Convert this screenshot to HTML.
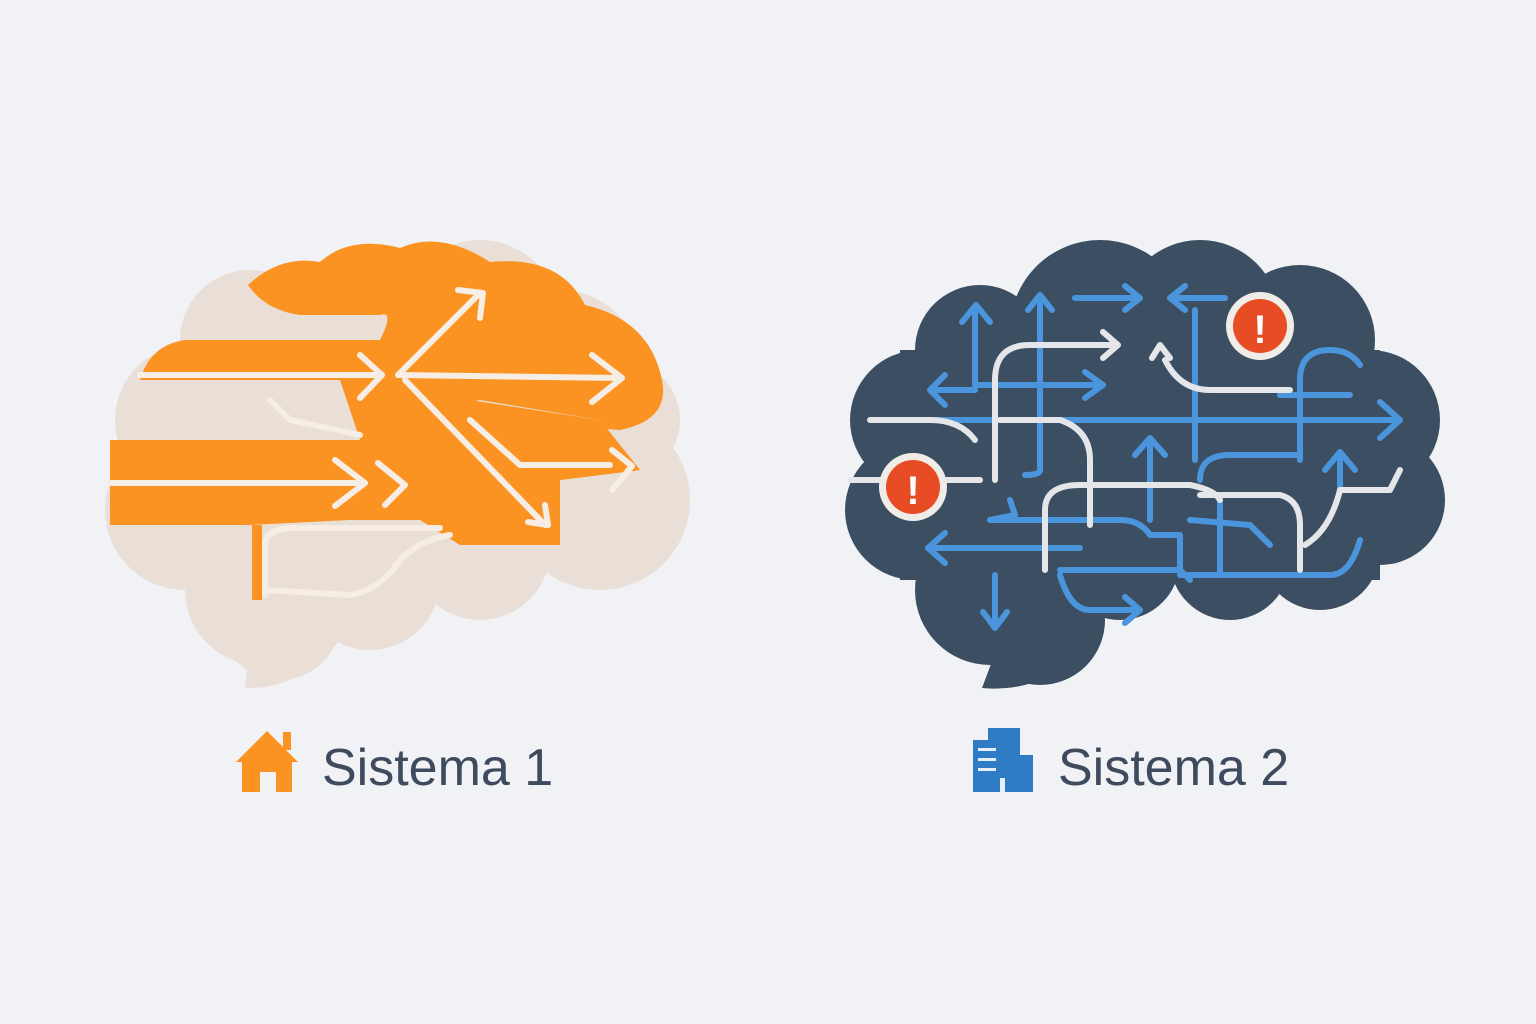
<!DOCTYPE html>
<html><head><meta charset="utf-8"><style>
html,body{margin:0;padding:0;background:#f1f2f5;}
svg{display:block}
text{font-family:"Liberation Sans",sans-serif;}
</style></head><body>
<svg width="1536" height="1024" viewBox="0 0 1536 1024">
<rect width="1536" height="1024" fill="#f1f2f5"/>
<!-- LEFT BRAIN beige -->
<g fill="#eadfd6">
<circle cx="250" cy="340" r="70"/><circle cx="190" cy="420" r="75"/><circle cx="185" cy="510" r="80"/>
<circle cx="260" cy="590" r="75"/><circle cx="370" cy="580" r="70"/><circle cx="480" cy="550" r="70"/>
<circle cx="600" cy="500" r="90"/><circle cx="620" cy="420" r="60"/><circle cx="360" cy="330" r="80"/>
<circle cx="480" cy="320" r="80"/><circle cx="560" cy="370" r="80"/><circle cx="280" cy="620" r="60"/>
<rect x="200" y="350" width="420" height="220"/>
<path d="M250 640 L245 688 Q300 690 340 640 Z"/>
</g>
<!-- orange parts -->
<g fill="#fb9322">
<path d="M248 285 Q280 255 320 262 Q350 235 400 248 Q440 230 490 262 Q560 255 585 305 Q650 320 662 380 Q670 420 620 430 L470 420 L420 520 L460 545 L560 545 L560 480 L640 470 L600 420 L480 400 L430 410 L350 520 L250 525 L110 525 L110 440 L360 440 L340 380 L140 380 Q150 345 185 340 L380 340 Q395 310 380 315 L300 315 Q265 310 248 285 Z"/>
<path d="M340 380 L470 400 L600 420 L640 470 L560 480 L560 545 L510 545 L440 520 L350 520 L365 440 Z"/>
<rect x="252" y="525" width="10" height="75"/>
</g>
<g stroke="#f6ede4" stroke-width="6" fill="none" stroke-linecap="round" stroke-linejoin="round">
<path d="M140 375 L380 375 M360 355 L382 375 L360 398"/>
<path d="M110 483 L365 483 M335 460 L365 483 L335 506"/>
<path d="M378 463 L405 485 L385 505"/>
<path d="M398 375 L620 378 M592 355 L622 378 M592 402 L622 378"/>
<path d="M398 375 L478 295 M458 290 L483 293 L480 318"/>
<path d="M405 380 L545 525 M528 522 L548 525 L545 505"/>
<path d="M470 420 L520 465 L610 465 M612 450 L632 466 L612 490"/>
<path d="M265 595 L265 545 Q265 530 290 528 L440 528"/>
<path d="M265 590 L350 595 Q380 590 400 560 Q420 540 450 535"/>
<path d="M270 400 L290 420 L360 435"/>
</g>
<!-- RIGHT BRAIN -->
<g fill="#3c4e62">
<circle cx="980" cy="350" r="65"/><circle cx="920" cy="420" r="70"/><circle cx="915" cy="510" r="70"/>
<circle cx="990" cy="590" r="75"/><circle cx="1100" cy="330" r="90"/><circle cx="1200" cy="320" r="80"/>
<circle cx="1300" cy="340" r="75"/><circle cx="1370" cy="420" r="70"/><circle cx="1380" cy="500" r="65"/>
<circle cx="1320" cy="550" r="60"/><circle cx="1230" cy="560" r="60"/><circle cx="1120" cy="560" r="60"/>
<circle cx="1040" cy="620" r="65"/>
<rect x="900" y="350" width="480" height="230"/>
<path d="M1000 640 L982 688 Q1060 695 1100 620 Z"/>
</g>
<g stroke="#4b95dc" stroke-width="6" fill="none" stroke-linecap="round" stroke-linejoin="round">
<path d="M975 310 L975 385 L1100 385 M1085 372 L1103 385 L1085 398"/>
<path d="M962 322 L976 305 L990 322"/>
<path d="M1040 300 L1040 470 Q1040 475 1025 475"/>
<path d="M1028 310 L1040 295 L1052 310"/>
<path d="M1075 298 L1140 298 M1125 286 L1140 298 L1125 310"/>
<path d="M1225 298 L1170 298 M1185 286 L1170 298 L1185 310"/>
<path d="M930 390 L975 390 M945 375 L930 390 L945 405"/>
<path d="M930 420 L1400 420 M1380 402 L1400 420 L1380 438"/>
<path d="M1195 310 L1195 460"/>
<path d="M1150 440 L1150 520 M1135 455 L1150 438 L1165 455"/>
<path d="M930 548 L1080 548 M945 533 L928 548 L945 563"/>
<path d="M995 575 L995 625 M983 612 L995 628 L1007 612"/>
<path d="M1060 575 Q1070 610 1090 610 L1140 610 M1125 597 L1140 610 L1125 623"/>
<path d="M990 520 L1120 520 Q1140 520 1150 535 L1180 535 L1180 575 L1330 575 Q1350 575 1360 540"/>
<path d="M1220 500 L1220 575"/>
<path d="M1270 545 L1250 525 L1190 520"/>
<path d="M1300 460 L1300 380 Q1300 350 1330 350 Q1350 350 1360 365 M1280 395 L1350 395"/>
<path d="M1200 480 Q1200 455 1230 455 L1300 455"/>
<path d="M1340 490 L1340 455 M1325 470 L1340 452 L1355 470"/>
<path d="M1010 500 L1015 515 L990 520"/>
<path d="M1060 570 L1180 570 L1190 580"/>
</g>
<g stroke="#e4e6ea" stroke-width="6" fill="none" stroke-linecap="round" stroke-linejoin="round">
<path d="M870 420 L930 420 Q960 420 975 440"/>
<path d="M850 480 L890 480 M940 480 L980 480"/>
<path d="M995 480 L995 380 Q995 345 1030 345 L1115 345 M1103 332 L1118 345 L1103 358"/>
<path d="M1000 420 L1060 420 Q1090 430 1090 460 L1090 525"/>
<path d="M1045 570 L1045 510 Q1045 485 1080 485 L1190 485 Q1215 490 1220 500"/>
<path d="M1165 360 Q1180 390 1210 390 L1290 390"/>
<path d="M1152 358 L1160 345 L1170 358"/>
<path d="M1200 495 L1280 495 Q1300 500 1300 525 L1300 570"/>
<path d="M1305 545 Q1330 530 1340 490 L1390 490 L1400 470"/>
</g>
<circle cx="1260" cy="326" r="34" fill="#f0ede9"/><circle cx="1260" cy="326" r="27" fill="#e84c24"/>
<text x="1260" y="343" font-size="40" font-weight="bold" fill="#fff" text-anchor="middle">!</text>
<circle cx="913" cy="487" r="34" fill="#f0ede9"/><circle cx="913" cy="487" r="27" fill="#e84c24"/>
<text x="913" y="504" font-size="40" font-weight="bold" fill="#fff" text-anchor="middle">!</text>
<!-- labels -->
<g fill="#fb9322">
<path d="M236 762 L267 731 L298 762 L292 762 L292 792 L276 792 L276 772 L260 772 L260 792 L242 792 L242 762 Z"/>
<rect x="283" y="732" width="8" height="18"/>
</g>
<text x="322" y="785" font-size="52" fill="#3e4a5d">Sistema 1</text>
<g fill="#2f7cc4">
<rect x="973" y="740" width="28" height="52"/><rect x="988" y="728" width="32" height="64"/><rect x="1018" y="755" width="15" height="37"/>
</g>
<g fill="#e6eef7"><rect x="978" y="748" width="18" height="3"/><rect x="978" y="758" width="18" height="3"/><rect x="978" y="768" width="18" height="3"/><rect x="1000" y="778" width="5" height="14"/></g>
<text x="1058" y="785" font-size="52" fill="#3e4a5d">Sistema 2</text>
</svg>
</body></html>
